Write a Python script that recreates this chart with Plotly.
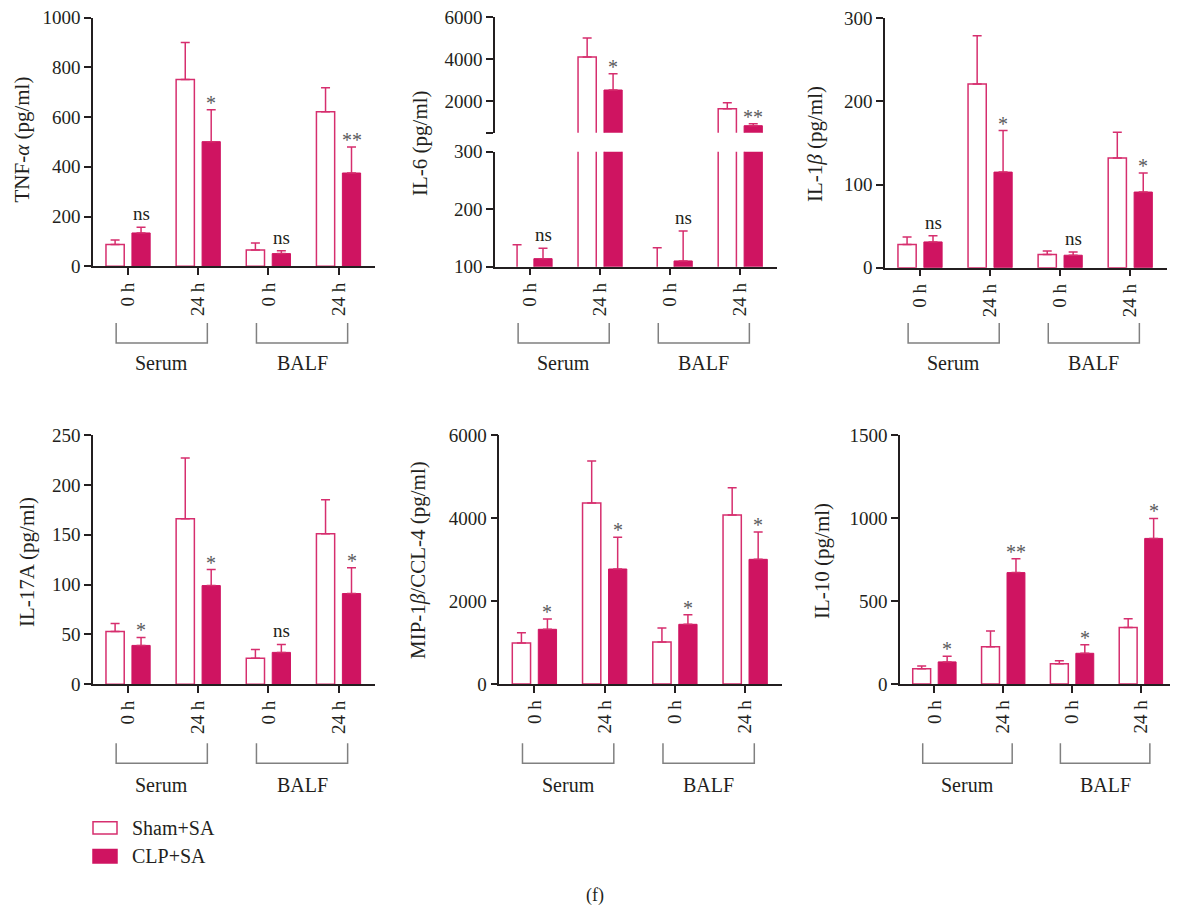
import plotly.graph_objects as go

# page body has an 8px margin: the figure is sized to fit the window and
# all layout positions below are given in window pixels, shifted by OFF.
OFF = 8
W, H = 1178 - OFF, 909 - OFF

# ---------------- data ----------------
tick_labels = ["0 h", "24 h", "0 h", "24 h"]
site_labels = ["Serum", "BALF"]
series_names = ["Sham+SA", "CLP+SA"]
groups = [0, 1, 2, 3]

tnf_sham = [88, 751, 66, 621]
tnf_sham_err = [18, 149, 28, 97]
tnf_clp = [134, 501, 51, 375]
tnf_clp_err = [23, 128, 11, 104]
tnf_sig = ["ns", "*", "ns", "**"]

il6_sham = [92, 4108, 90, 1644]
il6_sham_err = [46, 906, 43, 286]
il6_clp = [114, 2535, 110, 834]
il6_clp_err = [18, 777, 52, 95]
il6_sig = ["ns", "*", "ns", "**"]

il1b_sham = [28, 221, 16, 132]
il1b_sham_err = [9, 58, 4, 31]
il1b_clp = [31, 115, 15, 91]
il1b_clp_err = [7.5, 50, 4, 23]
il1b_sig = ["ns", "*", "ns", "*"]

il17_sham = [53, 166, 26, 151]
il17_sham_err = [8, 61, 9, 34]
il17_clp = [39, 99, 32, 91]
il17_clp_err = [8, 16, 8, 26]
il17_sig = ["*", "*", "ns", "*"]

mip_sham = [988, 4361, 1012, 4072]
mip_sham_err = [249, 1012, 337, 659]
mip_clp = [1318, 2771, 1438, 3004]
mip_clp_err = [248, 764, 232, 659]
mip_sig = ["*", "*", "*", "*"]

il10_sham = [92, 225, 122, 341]
il10_sham_err = [16, 94, 18, 52]
il10_clp = [133, 671, 185, 877]
il10_clp_err = [34, 84, 52, 120]
il10_sig = ["*", "**", "*", "*"]

# ---------------- style ----------------
FILL = "#CF1461"
LINE = "#D62E6E"
AXC = "#231F20"
GRAY = "#808080"
STAR = "#5a5a5c"
FONT = "Liberation Serif"
TICKSIZE = 19
TITLESIZE = 21


def px(x):
    return (x - OFF) / W


def py(y):
    return 1 - (y - OFF) / H


panels = [
    dict(title="TNF-<i>α</i> (pg/ml)", sham=tnf_sham, sham_err=tnf_sham_err, clp=tnf_clp, clp_err=tnf_clp_err,
         sig=tnf_sig, xdom=(93, 375), ydom=(266.3, 17.5), yrange=[0, 1000],
         yticks=[0, 200, 400, 600, 800, 1000], tx=21.5, ty=140, row=0),
    dict(title="IL-6 (pg/ml)", sham=il6_sham, sham_err=il6_sham_err, clp=il6_clp, clp_err=il6_clp_err,
         sig=il6_sig, xdom=(495, 776.7), ydom=(266.7, 151.7), yrange=[100, 300],
         yticks=[100, 200, 300], tx=420, ty=143, row=0,
         upper=dict(ydom=(132.7, 17.3), yrange=[500, 6000], yticks=[500, 2000, 4000, 6000],
                    ytext=["", "2000", "4000", "6000"])),
    dict(title="IL-1<i>β</i> (pg/ml)", sham=il1b_sham, sham_err=il1b_sham_err, clp=il1b_clp, clp_err=il1b_clp_err,
         sig=il1b_sig, xdom=(885, 1166.7), ydom=(267.7, 18.3), yrange=[0, 300],
         yticks=[0, 100, 200, 300], tx=815, ty=144, row=0),
    dict(title="IL-17A (pg/ml)", sham=il17_sham, sham_err=il17_sham_err, clp=il17_clp, clp_err=il17_clp_err,
         sig=il17_sig, xdom=(93, 375), ydom=(684.3, 435), yrange=[0, 250],
         yticks=[0, 50, 100, 150, 200, 250], tx=27, ty=562, row=1),
    dict(title="MIP-1<i>β</i>/CCL-4 (pg/ml)", sham=mip_sham, sham_err=mip_sham_err, clp=mip_clp, clp_err=mip_clp_err,
         sig=mip_sig, xdom=(499.3, 781.7), ydom=(684, 435), yrange=[0, 6000],
         yticks=[0, 2000, 4000, 6000], tx=418, ty=560, row=1),
    dict(title="IL-10 (pg/ml)", sham=il10_sham, sham_err=il10_sham_err, clp=il10_clp, clp_err=il10_clp_err,
         sig=il10_sig, xdom=(900, 1176.7), ydom=(684, 435), yrange=[0, 1500],
         yticks=[0, 500, 1000, 1500], tx=822, ty=561, row=1),
]

BAR_W = 0.26
SHAM_OFF = -0.315
CLP_OFF = 0.055
CLP_CENTER = CLP_OFF + BAR_W / 2

fig = go.Figure()
layout = dict(
    width=W, height=H, margin=dict(l=0, r=0, t=0, b=0, autoexpand=False),
    paper_bgcolor="white", plot_bgcolor="white",
    barmode="overlay", showlegend=False,
    font=dict(family=FONT, size=TICKSIZE, color=AXC),
)
annotations = []
shapes = []


def yaxis_style(dom, rng, ticks, anchor, ytext=None):
    d = dict(domain=[py(dom[0]), py(dom[1])], range=rng, anchor=anchor,
             tickvals=ticks, showline=True, linecolor=AXC, linewidth=1.5,
             ticks="outside", ticklen=7, tickwidth=1.5, tickcolor=AXC,
             showgrid=False, zeroline=False, fixedrange=True, automargin=False,
             ticklabeloverflow="allow",
             tickfont=dict(family=FONT, size=TICKSIZE, color=AXC))
    if ytext is not None:
        d["ticktext"] = ytext
    return d


def add_bars(xa, ya, p):
    fig.add_trace(go.Bar(
        x=groups, y=p["sham"], name=series_names[0], width=BAR_W, offset=SHAM_OFF,
        marker=dict(color="white", line=dict(color=LINE, width=1.5)),
        error_y=dict(type="data", symmetric=False, array=p["sham_err"], arrayminus=[0] * 4,
                     color=LINE, thickness=1.5, width=4.5),
        xaxis=xa, yaxis=ya))
    fig.add_trace(go.Bar(
        x=groups, y=p["clp"], name=series_names[1], width=BAR_W, offset=CLP_OFF,
        marker=dict(color=FILL, line=dict(color=FILL, width=1)),
        error_y=dict(type="data", symmetric=False, array=p["clp_err"], arrayminus=[0] * 4,
                     color=LINE, thickness=1.5, width=4.5),
        xaxis=xa, yaxis=ya))


for i, p in enumerate(panels, start=1):
    s = "" if i == 1 else str(i)
    xa, ya = "x" + s, "y" + s
    add_bars(xa, ya, p)
    layout["xaxis" + s] = dict(
        domain=[px(p["xdom"][0]), min(1.0, px(p["xdom"][1]))], range=[-0.5, 3.52], anchor=ya,
        tickvals=groups, ticktext=tick_labels, tickangle=-90,
        showline=True, linecolor=AXC, linewidth=1.5,
        ticks="outside", ticklen=7, tickwidth=1.5, tickcolor=AXC,
        showgrid=False, zeroline=False, fixedrange=True, automargin=False,
        ticklabeloverflow="allow",
        tickfont=dict(family=FONT, size=TICKSIZE, color=AXC))
    layout["yaxis" + s] = yaxis_style(p["ydom"], p["yrange"], p["yticks"], xa)

    upper_ref = None
    if "upper" in p:
        u = p["upper"]
        upper_ref = "y7"
        add_bars(xa, upper_ref, p)
        layout["yaxis7"] = yaxis_style(u["ydom"], u["yrange"], u["yticks"], xa, u["ytext"])

    # significance marks
    for g, lab, v, e in zip(groups, p["sig"], p["clp"], p["clp_err"]):
        top = v + e
        yref = ya
        if upper_ref is not None and top > p["yrange"][1]:
            yref = upper_ref
        is_ns = lab == "ns"
        annotations.append(dict(
            x=g + CLP_CENTER, y=top, xref=xa, yref=yref, text=lab, showarrow=False,
            xanchor="center", yanchor="bottom", yshift=1 if is_ns else -6,
            font=dict(family=FONT, size=TICKSIZE if is_ns else 20, color=AXC if is_ns else STAR)))

    # axis title
    annotations.append(dict(
        x=px(p["tx"]), y=py(p["ty"]), xref="paper", yref="paper", text=p["title"],
        textangle=-90, showarrow=False, xanchor="center", yanchor="middle",
        font=dict(family=FONT, size=TITLESIZE, color=AXC)))

    # group brackets
    ytop, ybot, ytxt = (323, 343, 363) if p["row"] == 0 else (743.3, 763.3, 785)
    for k, site in enumerate(site_labels):
        x0 = 2 * k - 0.17
        x1 = 2 * k + 1.13
        shapes.append(dict(
            type="path", xref=xa, yref="paper",
            path=f"M {x0},{py(ytop)} L {x0},{py(ybot)} L {x1},{py(ybot)} L {x1},{py(ytop)}",
            line=dict(color=GRAY, width=1.5)))
        annotations.append(dict(
            x=(x0 + x1) / 2, y=py(ytxt), xref=xa, yref="paper", text=site, showarrow=False,
            xanchor="center", yanchor="middle", font=dict(family=FONT, size=20, color=AXC)))

# legend (drawn manually)
legend_rows = [(821.7, 834, "white", LINE), (849.5, 863, FILL, FILL)]
for (y0, y1, fc, lc), name in zip(legend_rows, series_names):
    shapes.append(dict(type="rect", xref="paper", yref="paper",
                       x0=px(93), x1=px(117), y0=py(y1), y1=py(y0),
                       fillcolor=fc, line=dict(color=lc, width=1.5)))
    annotations.append(dict(x=px(130), y=py((y0 + y1) / 2), xref="paper", yref="paper", text=name,
                            showarrow=False, xanchor="left", yanchor="middle",
                            font=dict(family=FONT, size=20, color=AXC)))

annotations.append(dict(x=px(595), y=py(895), xref="paper", yref="paper", text="(f)",
                        showarrow=False, xanchor="center", yanchor="middle",
                        font=dict(family=FONT, size=18, color=AXC)))

layout["annotations"] = annotations
layout["shapes"] = shapes
fig.update_layout(**layout)
fig.write_html("out.html")
